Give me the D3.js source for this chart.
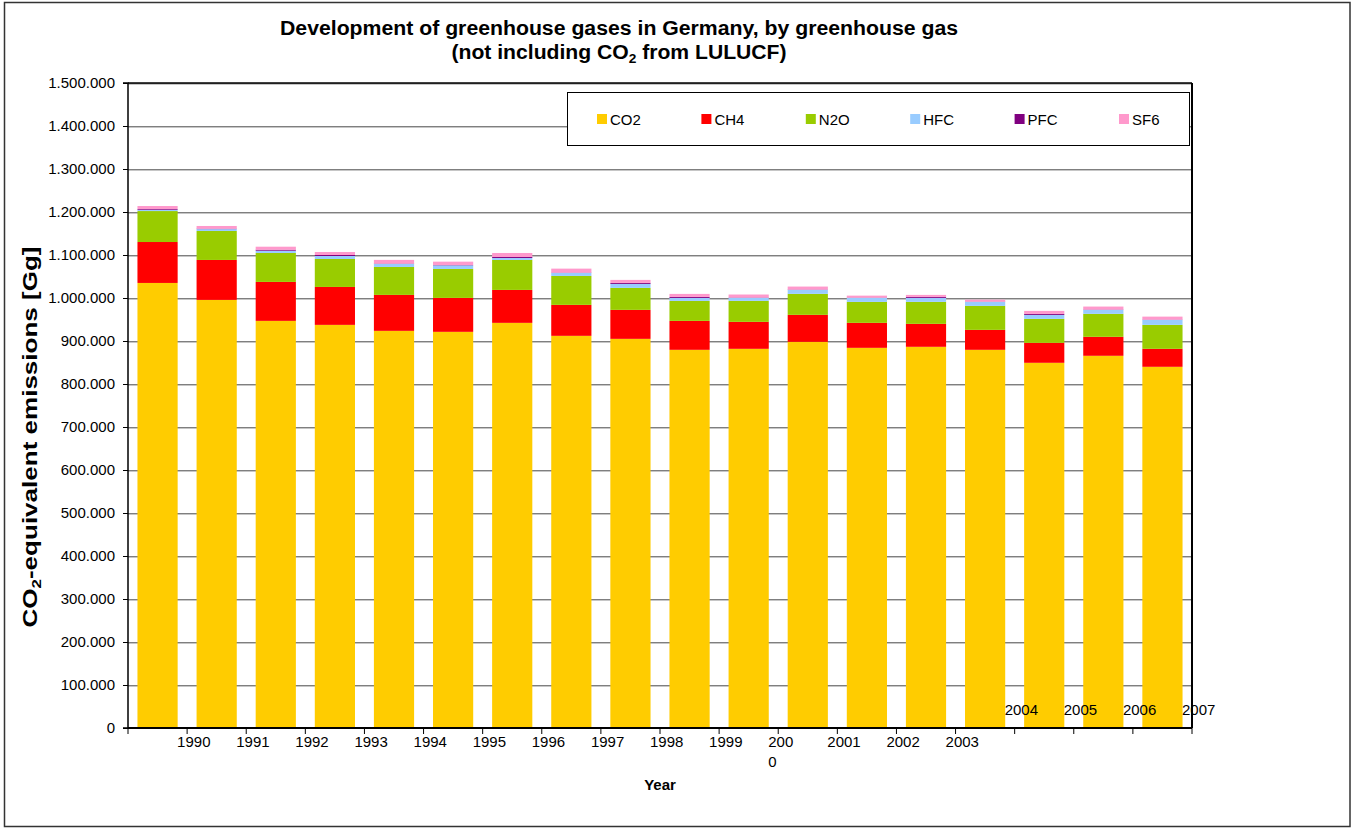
<!DOCTYPE html>
<html><head><meta charset="utf-8">
<script src="https://cdn.jsdelivr.net/npm/d3@7"></script>
<style>
body{margin:0;background:#fff}
svg{display:block}
text{font-family:"Liberation Sans",Arial,sans-serif;fill:#000}
</style>
</head><body>
<svg id="chart" width="1352" height="828"></svg>
<script>
// ---- data (Gg CO2-equivalent) ----
const years = ["1990","1991","1992","1993","1994","1995","1996","1997","1998","1999","2000","2001","2002","2003","2004","2005","2006","2007"];
const xTickLabels = ["1990","1991","1992","1993","1994","1995","1996","1997","1998","1999","200\n0","2001","2002","2003","2004","2005","2006","2007"];
const seriesNames = ["CO2","CH4","N2O","HFC","PFC","SF6"];
const seriesColors = ["#FFCC00","#FF0000","#99CC00","#99CCFF","#800080","#FF99CC"];
const co2 = [1035000,995600,946800,937500,923600,921300,942200,912000,905000,879500,881800,898100,884100,886500,879500,849300,865600,840000];
const ch4 = [95200,92900,90600,88200,83600,78900,76600,72000,67400,67300,62700,62700,58100,53400,46400,46400,44100,41800];
const n2o = [72000,67300,67300,65000,65000,67300,69700,67300,51100,46400,48800,48800,48700,51100,55700,55700,53400,55700];
const hfc = [3000,4400,5300,7000,7000,8600,4600,7000,9300,7000,7000,9300,9300,9300,9300,9300,9300,11600];
const pfc = [1700,1000,2300,2300,800,700,2300,700,2300,2300,800,700,700,2300,600,2300,700,600];
const sf6 = [7000,6300,7000,7000,8600,7700,9300,9300,7000,7000,7000,7000,4600,4600,4600,7000,7000,7000];
const yTicks = [0,100000,200000,300000,400000,500000,600000,700000,800000,900000,1000000,1100000,1200000,1300000,1400000,1500000];

const table = years.map((yr,i)=>({year:yr,CO2:co2[i],CH4:ch4[i],N2O:n2o[i],HFC:hfc[i],PFC:pfc[i],SF6:sf6[i]}));

const svg = d3.select("#chart");
const L = 128, R = 1192, T = 83, B = 728;

const x = d3.scaleBand().domain(years).range([L,R]).paddingInner(0.32).paddingOuter(0.16);
const y = d3.scaleLinear().domain([0,1500000]).range([B,T]);
const color = d3.scaleOrdinal().domain(seriesNames).range(seriesColors);
const loc = d3.formatLocale({decimal:",",thousands:".",grouping:[3],currency:["",""]});
const fmt = loc.format(",d");

// outer frame
svg.append("rect").attr("x",4.5).attr("y",2.5).attr("width",1345.5).attr("height",824)
  .attr("fill","#fff").attr("stroke","#333").attr("stroke-width",1.5);

// gridlines
const grid = svg.append("g");
yTicks.filter(t=>t>0).forEach(t=>{
  grid.append("line").attr("x1",L).attr("x2",R).attr("y1",y(t)+0.5).attr("y2",y(t)+0.5)
    .attr("stroke","#7f7f7f").attr("stroke-width",1);
  grid.append("line").attr("x1",L).attr("x2",R).attr("y1",y(t)+1.5).attr("y2",y(t)+1.5)
    .attr("stroke","#c6c6c6").attr("stroke-width",1);
});

// stacked bars
const stacked = d3.stack().keys(seriesNames)(table);
svg.append("g").selectAll("g").data(stacked).join("g")
  .attr("fill",d=>color(d.key))
  .selectAll("rect").data(d=>d).join("rect")
  .attr("x",d=>x(d.data.year))
  .attr("width",x.bandwidth())
  .attr("y",d=>y(d[1]))
  .attr("height",d=>y(d[0])-y(d[1]));

// plot border top/right
svg.append("line").attr("x1",L).attr("x2",R).attr("y1",T).attr("y2",T).attr("stroke","#000").attr("stroke-width",1.5);
svg.append("line").attr("x1",R).attr("x2",R).attr("y1",T).attr("y2",B).attr("stroke","#000").attr("stroke-width",2);

// y axis
const yAxis = svg.append("g").attr("transform",`translate(${L},0)`)
  .call(d3.axisLeft(y).tickValues(yTicks).tickFormat(fmt).tickSize(5).tickPadding(8));
yAxis.select(".domain").attr("stroke","#000").attr("stroke-width",1.5).attr("d",`M-5,${T}H0V${B}H-5`);
yAxis.selectAll(".tick line").attr("stroke","#000").attr("stroke-width",1);
yAxis.selectAll(".tick text").attr("font-size",15).attr("font-family",'"Liberation Sans",Arial,sans-serif').attr("fill","#000");

// x axis
const step = x.step();
const boundary = i => x(years[0]) - (step - x.bandwidth())/2 + i*step;
svg.append("line").attr("x1",L).attr("x2",R).attr("y1",B).attr("y2",B).attr("stroke","#000").attr("stroke-width",2);
const xg = svg.append("g");
for (let i=0;i<=years.length;i++){
  xg.append("line").attr("x1",boundary(i)).attr("x2",boundary(i)).attr("y1",B).attr("y2",B+6)
    .attr("stroke","#000").attr("stroke-width",1);
}
xTickLabels.forEach((lab,i)=>{
  const raised = i>=14;
  const t = xg.append("text").attr("x",boundary(i+1)-10).attr("y",raised?715:747)
    .attr("font-size",15).attr("text-anchor","start");
  lab.split("\n").forEach((part,k)=>{
    t.append("tspan").attr("x",boundary(i+1)-10).attr("dy",k===0?0:20).text(part);
  });
});

// titles
svg.append("text").attr("x",619).attr("y",35).attr("text-anchor","middle")
  .attr("font-size",20).attr("font-weight","bold")
  .attr("textLength",678).attr("lengthAdjust","spacingAndGlyphs")
  .text("Development of greenhouse gases in Germany, by greenhouse gas");
const t2 = svg.append("text").attr("x",619).attr("y",59).attr("text-anchor","middle")
  .attr("font-size",20).attr("font-weight","bold")
  .attr("textLength",335).attr("lengthAdjust","spacingAndGlyphs");
t2.append("tspan").text("(not including CO");
t2.append("tspan").attr("font-size",13).attr("dy",4).text("2");
t2.append("tspan").attr("dy",-4).text(" from LULUCF)");

// y title
const yt = svg.append("text").attr("transform","translate(37,437) rotate(-90)").attr("text-anchor","middle")
  .attr("font-size",20).attr("font-weight","bold")
  .attr("textLength",381).attr("lengthAdjust","spacingAndGlyphs");
yt.append("tspan").text("CO");
yt.append("tspan").attr("font-size",13).attr("dy",4).text("2");
yt.append("tspan").attr("dy",-4).text("-equivalent emissions [Gg]");

// x title
svg.append("text").attr("x",660).attr("y",790).attr("text-anchor","middle")
  .attr("font-size",15).attr("font-weight","bold").text("Year");

// legend
const lg = svg.append("g");
lg.append("rect").attr("x",567.5).attr("y",92.5).attr("width",622).attr("height",53)
  .attr("fill","#fff").attr("stroke","#000").attr("stroke-width",1);
seriesNames.forEach((s,i)=>{
  const lx = 597 + i*104.4;
  lg.append("rect").attr("x",lx).attr("y",114).attr("width",10).attr("height",10).attr("fill",color(s));
  lg.append("text").attr("x",lx+13).attr("y",125).attr("font-size",15).text(s);
});
</script>
</body></html>
